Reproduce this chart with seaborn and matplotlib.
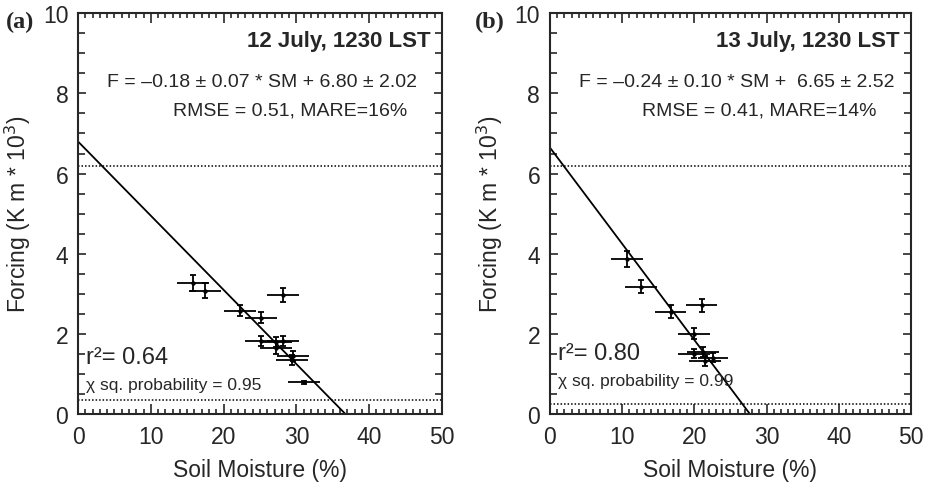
import matplotlib
matplotlib.use("Agg")
import matplotlib.pyplot as plt
from matplotlib.ticker import MultipleLocator
import numpy as np
import pandas as pd
import seaborn as sns

# panel (a): 12 July
sm_a = [15.8, 17.5, 22.3, 25.2, 28.2, 25.2, 27.2, 28.2, 27.2, 29.6, 29.4, 31.0]
f_a = [3.27, 3.08, 2.58, 2.41, 2.97, 1.83, 1.80, 1.83, 1.66, 1.45, 1.35, 0.79]
sm_err_a = [2.2, 2.2, 2.2, 2.2, 2.2, 2.2, 2.2, 2.2, 2.2, 2.2, 2.2, 2.2]
f_err_a = [0.19, 0.19, 0.14, 0.13, 0.17, 0.12, 0.12, 0.12, 0.15, 0.12, 0.12, 0.03]
fit_a = (6.80, -0.185)
hlines_a = [6.2, 0.35]

# panel (b): 13 July
sm_b = [10.7, 12.6, 16.7, 21.0, 19.9, 19.9, 21.2, 22.6, 21.5]
f_b = [3.87, 3.18, 2.55, 2.72, 2.01, 1.51, 1.55, 1.41, 1.33]
sm_err_b = [2.2, 2.2, 2.2, 2.2, 2.2, 2.2, 2.2, 2.1, 2.2]
f_err_b = [0.21, 0.17, 0.16, 0.16, 0.13, 0.12, 0.12, 0.11, 0.12]
fit_b = (6.65, -0.24)
hlines_b = [6.2, 0.25]

sns.set_style("ticks")
plt.rcParams["font.family"] = ["Liberation Sans", "DejaVu Sans"]
plt.rcParams["axes.linewidth"] = 1.5


def draw_panel(ax, sm, f, sm_err, f_err, fit, hlines, title, eq, stats, r2, chi, r2_y, chi_y):
    df = pd.DataFrame({"sm": sm, "f": f})
    # error bars: horizontal ones without caps, vertical ones with small caps
    ax.errorbar(sm, f, xerr=sm_err, fmt="none", ecolor="black", elinewidth=1.3, capsize=0)
    ax.errorbar(sm, f, yerr=f_err, fmt="none", ecolor="black", elinewidth=1.3,
                capsize=2.2, capthick=1.3)
    sns.scatterplot(data=df, x="sm", y="f", ax=ax, color="black", s=10,
                    edgecolor="black", linewidth=0, zorder=3)

    # regression line
    xl = np.array([0, 50])
    line = pd.DataFrame({"x": xl, "y": fit[0] + fit[1] * xl})
    sns.lineplot(data=line, x="x", y="y", ax=ax, color="black", linewidth=1.3)

    for h in hlines:
        ax.axhline(h, color="black", linestyle=(0, (1, 1.3)), linewidth=1.1)

    ax.set_xlim(0, 50)
    ax.set_ylim(0, 10)
    ax.xaxis.set_major_locator(MultipleLocator(10))
    ax.xaxis.set_minor_locator(MultipleLocator(1))
    ax.yaxis.set_major_locator(MultipleLocator(2))
    ax.yaxis.set_minor_locator(MultipleLocator(0.5))
    ax.tick_params(which="both", direction="in", top=True, right=True,
                   labelsize=16.5, width=1.2)
    ax.tick_params(axis="x", which="major", length=7, pad=8)
    ax.tick_params(axis="x", which="minor", length=3.5)
    ax.tick_params(axis="y", which="major", length=6, pad=7)
    ax.tick_params(axis="y", which="minor", length=5)

    ax.set_xlabel("Soil Moisture (%)", fontsize=16.5)
    ax.set_ylabel("Forcing (K m * 10$^3$)", fontsize=16.5)
    ax.xaxis.set_label_coords(0.5, -0.11)
    ax.yaxis.set_label_coords(-0.125, 0.5)

    ax.text(0.968, 0.918, title, transform=ax.transAxes, ha="right", va="baseline",
            fontsize=16, fontweight="bold")
    ax.text(0.08, 0.818, eq, transform=ax.transAxes, ha="left", va="baseline", fontsize=14)
    ax.text(0.905, 0.748, stats, transform=ax.transAxes, ha="right", va="baseline", fontsize=14)
    ax.text(0.022, r2_y, r2, transform=ax.transAxes, ha="left", va="baseline", fontsize=17)
    ax.text(0.022, chi_y, chi, transform=ax.transAxes, ha="left", va="baseline", fontsize=12.5)


fig = plt.figure(figsize=(9.32, 4.89), dpi=100)
ax1 = fig.add_axes([0.0837, 0.151, 0.3905, 0.82])
ax2 = fig.add_axes([0.590, 0.151, 0.3875, 0.82])

draw_panel(ax1, sm_a, f_a, sm_err_a, f_err_a, fit_a, hlines_a,
           "12 July, 1230 LST",
           "F = \u20130.18 \u00b1 0.07 * SM + 6.80 \u00b1 2.02",
           "RMSE = 0.51, MARE=16%",
           "r\u00b2= 0.64", "\u03c7 sq. probability = 0.95", 0.127, 0.062)
draw_panel(ax2, sm_b, f_b, sm_err_b, f_err_b, fit_b, hlines_b,
           "13 July, 1230 LST",
           "F = \u20130.24 \u00b1 0.10 * SM +  6.65 \u00b1 2.52",
           "RMSE = 0.41, MARE=14%",
           "r\u00b2= 0.80", "\u03c7 sq. probability = 0.99", 0.137, 0.072)

fig.text(0.006, 0.975, "(a)", ha="left", va="top", fontsize=17.5, fontweight="bold",
         family=["Liberation Serif", "DejaVu Serif"])
fig.text(0.510, 0.975, "(b)", ha="left", va="top", fontsize=17.5, fontweight="bold",
         family=["Liberation Serif", "DejaVu Serif"])

fig.savefig("out.png", dpi=100)
